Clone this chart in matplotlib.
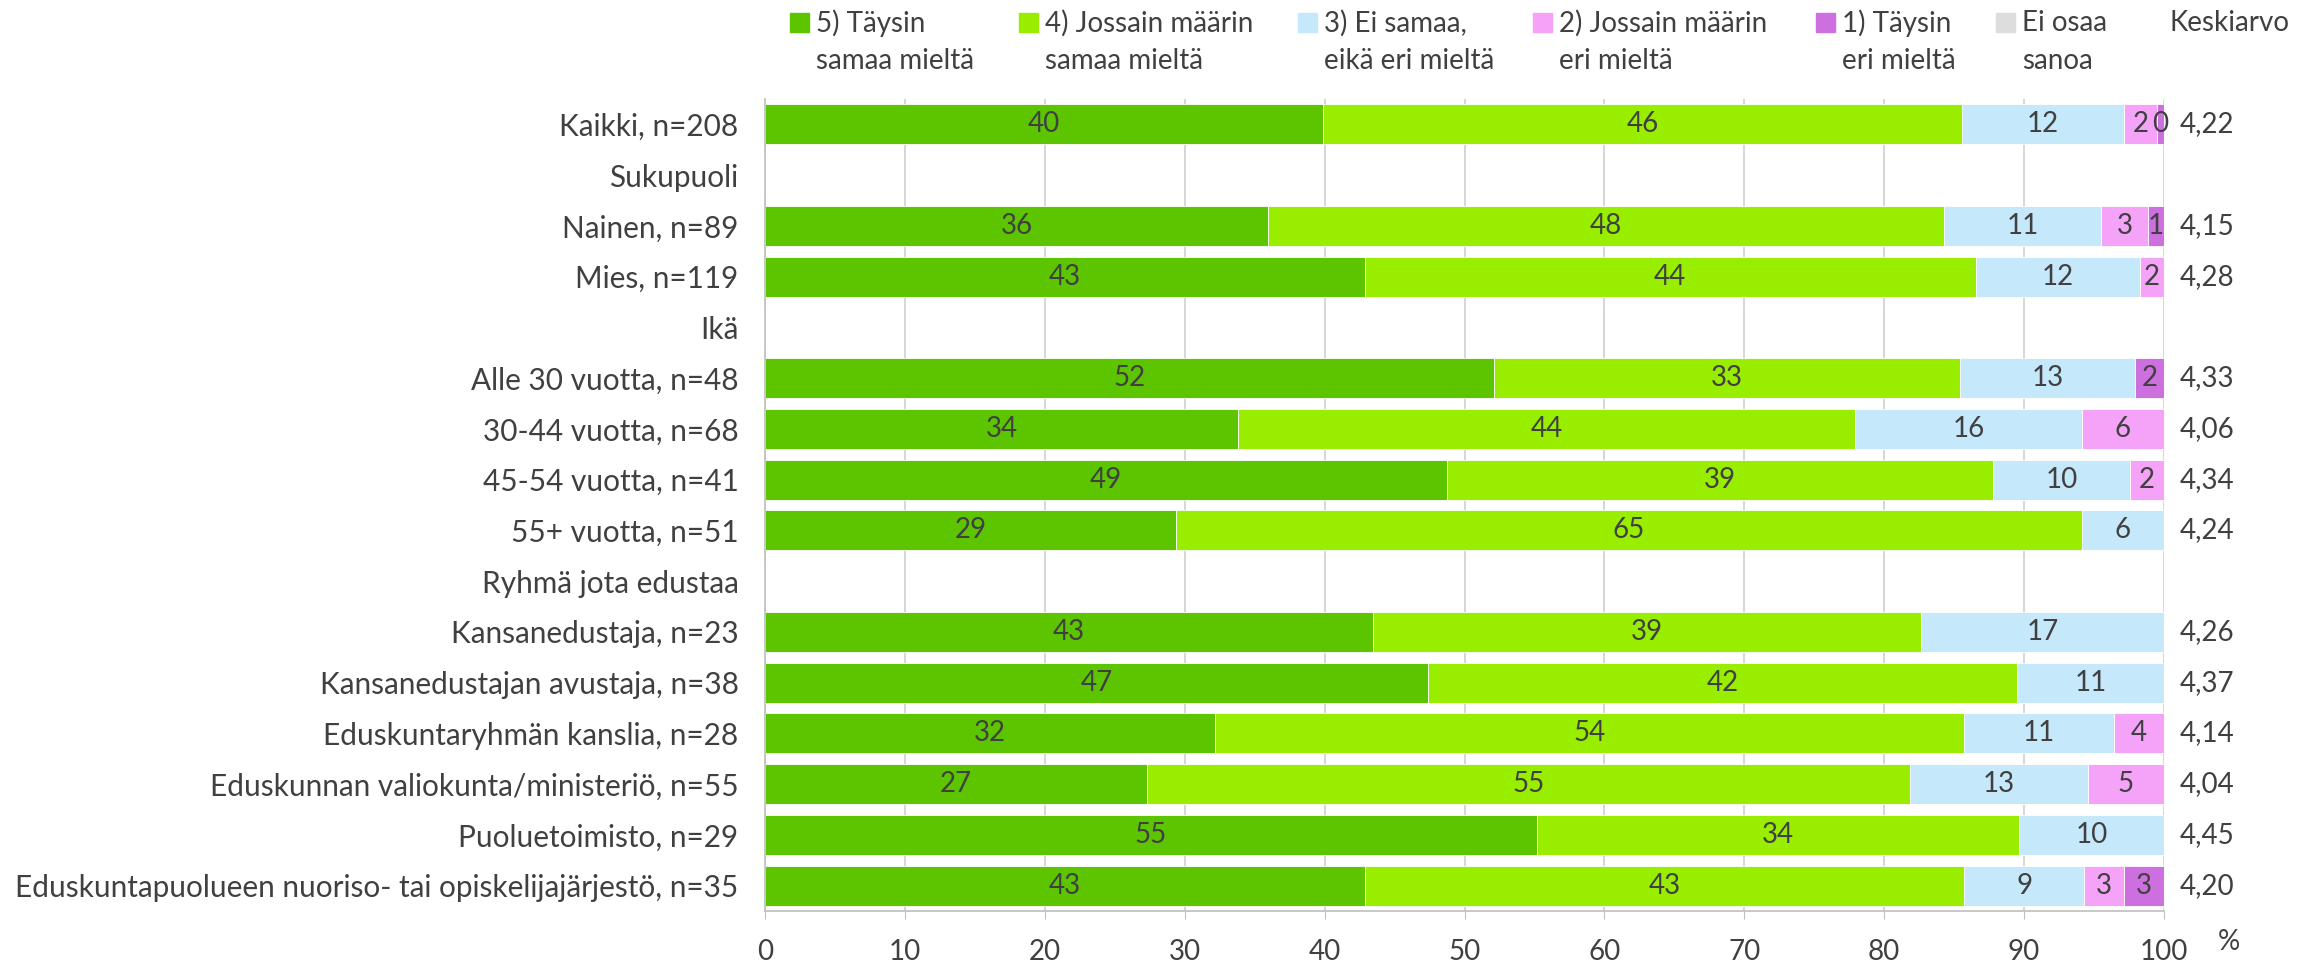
import matplotlib.pyplot as plt
import numpy as np
from matplotlib.patches import Rectangle

plt.rcParams['font.family'] = ['Lato', 'DejaVu Sans']
TXT = '#404040'
FS = 20        # numbers
FS_CAT = 21.4  # category labels
FS_LEG = 20    # legend / header

nan = np.nan
categories = [
    "Kaikki, n=208", "Sukupuoli", "Nainen, n=89", "Mies, n=119", "Ikä",
    "Alle 30 vuotta, n=48", "30-44 vuotta, n=68", "45-54 vuotta, n=41",
    "55+ vuotta, n=51", "Ryhmä jota edustaa", "Kansanedustaja, n=23",
    "Kansanedustajan avustaja, n=38", "Eduskuntaryhmän kanslia, n=28",
    "Eduskunnan valiokunta/ministeriö, n=55", "Puoluetoimisto, n=29",
    "Eduskuntapuolueen nuoriso- tai opiskelijajärjestö, n=35",
]
taysin_samaa = [39.90, nan, 35.96, 42.86, nan, 52.08, 33.82, 48.78, 29.41, nan,
                43.48, 47.37, 32.14, 27.27, 55.17, 42.86]
jossain_samaa = [45.67, nan, 48.31, 43.70, nan, 33.33, 44.12, 39.02, 64.71, nan,
                 39.13, 42.11, 53.57, 54.55, 34.48, 42.86]
ei_samaa_eika_eri = [11.54, nan, 11.24, 11.76, nan, 12.50, 16.18, 9.76, 5.88, nan,
                     17.39, 10.53, 10.71, 12.73, 10.34, 8.57]
jossain_eri = [2.40, nan, 3.37, 1.68, nan, 0, 5.88, 2.44, 0, nan,
               0, 0, 3.57, 5.45, 0, 2.86]
taysin_eri = [0.48, nan, 1.12, 0, nan, 2.08, 0, 0, 0, nan,
              0, 0, 0, 0, 0, 2.86]
ei_osaa = [0, nan, 0, 0, nan, 0, 0, 0, 0, nan, 0, 0, 0, 0, 0, 0]
keskiarvo = ["4,22", "", "4,15", "4,28", "", "4,33", "4,06", "4,34", "4,24", "",
             "4,26", "4,37", "4,14", "4,04", "4,45", "4,20"]

series_labels = ["5) Täysin\nsamaa mieltä", "4) Jossain määrin\nsamaa mieltä",
                 "3) Ei samaa,\neikä eri mieltä", "2) Jossain määrin\neri mieltä",
                 "1) Täysin\neri mieltä", "Ei osaa\nsanoa"]
colors = ["#5cc500", "#99ee00", "#c5e8fb", "#f4a3f8", "#ce6fe0", "#dddddd"]
series = [taysin_samaa, jossain_samaa, ei_samaa_eika_eri, jossain_eri, taysin_eri, ei_osaa]

W, H = 2315, 965
fig = plt.figure(figsize=(W / 100, H / 100), dpi=100)
ax = fig.add_axes([765 / W, 1 - 911 / H, (2164 - 765) / W, (911 - 99) / H])

y = np.arange(len(categories))
left = np.zeros(len(categories))
for vals, col in zip(series, colors):
    v = np.nan_to_num(np.array(vals, dtype=float))
    ax.barh(y, v, left=left, height=0.79, color=col, edgecolor='white',
            linewidth=0.6, zorder=2)
    for yi, li, vi in zip(y, left, v):
        if vi > 0:
            # Excel rounds half up
            ax.text(li + vi / 2, yi, f"{int(np.floor(vi + 0.5))}", ha='center',
                    va='center', fontsize=FS, color=TXT, zorder=3)
    left += v

for yi, s in zip(y, keskiarvo):
    ax.text(101.1, yi, s, ha='left', va='center', fontsize=FS, color=TXT,
            clip_on=False)

ax.set_xlim(0, 100)
ax.set_ylim(len(categories) - 0.5, -0.5)
ax.set_xticks(range(0, 101, 10))
ax.set_yticks(y, categories)
ax.tick_params(axis='y', length=0, pad=19, labelsize=FS_CAT, labelcolor=TXT)
ax.tick_params(axis='x', length=6, color='#bfbfbf', pad=14, labelsize=FS,
               labelcolor=TXT)
ax.xaxis.grid(True, color='#d0d0d0', lw=1.2)
ax.set_axisbelow(True)
for s in ['top', 'right']:
    ax.spines[s].set_visible(False)
for s in ['left', 'bottom']:
    ax.spines[s].set_color('#bfbfbf')
    ax.spines[s].set_linewidth(1.2)

fig.text(2218 / W, 1 - 942 / H, "%", ha='left', va='center', fontsize=FS, color=TXT)

# legend drawn by hand, Excel-style
marker_x = [790, 1019, 1298, 1533, 1816, 1996]
for mx, lab, col in zip(marker_x, series_labels, colors):
    fig.patches.append(Rectangle((mx / W, 1 - 32 / H), 19 / W, 19 / H,
                                 transform=fig.transFigure, color=col))
    for k, line in enumerate(lab.split("\n")):
        fig.text((mx + 26) / W, 1 - (23 + 38 * k) / H, line, ha='left',
                 va='center', fontsize=FS_LEG, color=TXT)
fig.text(2169 / W, 1 - 23 / H, "Keskiarvo", ha='left', va='center',
         fontsize=FS_LEG, color=TXT)

fig.savefig("out.png", dpi=100)
